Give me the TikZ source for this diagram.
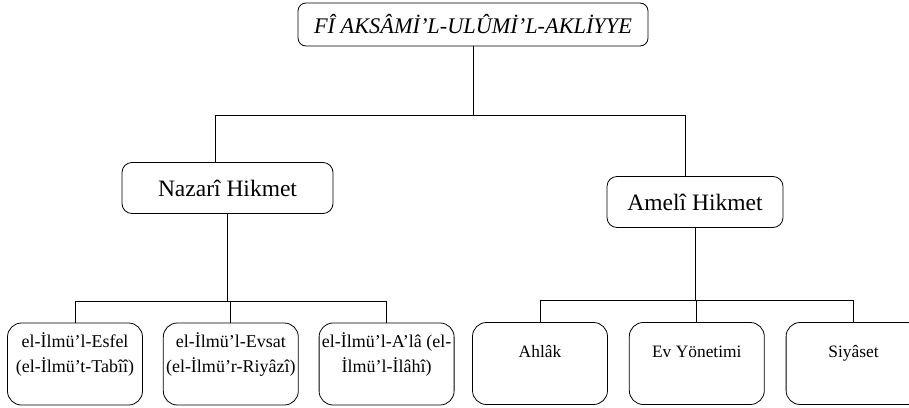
\documentclass[tikz,border=0pt]{standalone}
\usepackage{fontspec}
\setmainfont{Liberation Serif}
\usetikzlibrary{positioning}
\tikzstyle{topbox}=[draw=black,rounded corners=8pt,minimum width=350pt,minimum height=43pt,font=\fontsize{22.3}{27}\selectfont\itshape]
\tikzstyle{midbox}=[draw=black,rounded corners=10pt,minimum height=51pt,font=\fontsize{23.5}{28}\selectfont]
\tikzstyle{leaf}=[draw=black,rounded corners=14pt,minimum width=135pt,minimum height=82pt]
\tikzstyle{leaflabel}=[below=6pt,align=center,font=\fontsize{18}{25}\selectfont]
\tikzstyle{leafnote}=[below=19pt,align=center,text height=13pt,font=\fontsize{17.4}{21}\selectfont]

\begin{document}
\begin{tikzpicture}[x=1pt,y=-1pt,line width=0.8pt]
\useasboundingbox (0,0) rectangle (909,407);
\node[topbox] (root) at (473,24.5) {FÎ AKSÂMİ’L-ULÛMİ’L-AKLİYYE};
\node[midbox,minimum width=211pt] (nazari) at (227.5,188) {Nazarî Hikmet};
\node[midbox,minimum width=176pt] (ameli) at (695,202) {Amelî Hikmet};
% nazari dallar
\node[leaf,label={[leaflabel]north:{el-İlmü’l-Esfel\\(el-İlmü’t-Tabîî)}}] (esfel) at (75,364) {};
\node[leaf,right=20pt of esfel,label={[leaflabel]north:{el-İlmü’l-Evsat\\(el-İlmü’r-Riyâzî)}}] (evsat) {};
\node[leaf,right=20pt of evsat,label={[leaflabel]north:{el-İlmü’l-A’lâ (el-\\İlmü’l-İlâhî)}}] (ala) {};
% ameli dallar
\node[leaf,label={[leafnote]north:Ahlâk}] (ahlak) at (540,363.5) {};
\node[leaf,right=21pt of ahlak,label={[leafnote]north:Ev Yönetimi}] (ev) {};
\node[leaf,right=21pt of ev,label={[leafnote]north:Siyâset}] (siyaset) {};
% baglantilar
\coordinate (split) at (473,115);
\draw (root.south) -- (split);
\draw (split) -| ([xshift=-12pt]nazari.north);
\draw (split) -| ([xshift=-10pt]ameli.north);
\draw (nazari.south) -- ++(0,87) coordinate (nsplit);
\draw (esfel.north) |- (nsplit) -| (ala.north);
\draw (evsat.north) -- (evsat.north |- nsplit);
\draw (ameli.south) -- ++(0,72) coordinate (asplit);
\draw (ahlak.north) |- (asplit) -| (siyaset.north);
\draw (ev.north) -- (ev.north |- asplit);
\end{tikzpicture}
\end{document}
